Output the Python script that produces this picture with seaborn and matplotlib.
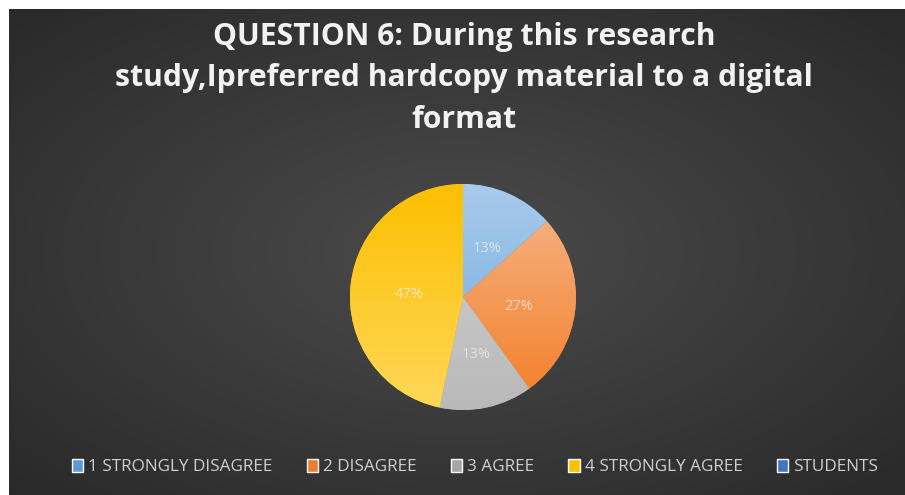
import numpy as np
import matplotlib
matplotlib.use("Agg")
import matplotlib.pyplot as plt
import seaborn as sns
from matplotlib.patches import Rectangle
from matplotlib.colors import LinearSegmentedColormap

sns.set_theme(style="white")
plt.rcParams['font.family'] = ['Open Sans', 'DejaVu Sans']

categories = ["1 STRONGLY DISAGREE", "2 DISAGREE", "3 AGREE", "4 STRONGLY AGREE"]
values = [2, 4, 2, 7]
legend_labels = ["1 STRONGLY DISAGREE", "2 DISAGREE", "3 AGREE", "4 STRONGLY AGREE", "STUDENTS"]
legend_colors = ["#5B9BD5", "#ED7D31", "#A5A5A5", "#FFC000", "#4472C4"]
title = "QUESTION 6: During this research\nstudy,Ipreferred hardcopy material to a digital\nformat"

# gradient endpoints (top colour, bottom colour) per slice
grad_top = ["#a9cbeb", "#f5b88d", "#d2d2d2", "#fcbf00"]
grad_bot = ["#6ba7dc", "#f47d25", "#b9b9b9", "#ffd85a"]

W, H = 905, 495
fig = plt.figure(figsize=(W / 100, H / 100), dpi=100, facecolor="white")

# background panel with radial gradient
bg = fig.add_axes([9 / W, 0, 1 - 9 / W, 1 - 9 / H])
yy, xx = np.mgrid[-1:1:300j, -1:1:500j]
r = np.sqrt((xx * 0.9) ** 2 + (yy * 0.9) ** 2)
bg_cmap = LinearSegmentedColormap.from_list("bg", ["#4b4b4b", "#2a2a2a"])
bg.imshow(r, cmap=bg_cmap, aspect="auto", extent=[0, 1, 0, 1], vmin=0, vmax=1.25)
bg.set_axis_off()

# pie
cx, cy, rad = 463, 297, 113
ax = fig.add_axes([(cx - rad) / W, (H - cy - rad) / H, 2 * rad / W, 2 * rad / H])
wedges, texts = ax.pie(values, colors=legend_colors[:4], startangle=90, counterclock=False,
                       radius=1.0, wedgeprops=dict(linewidth=0))
ax.set_xlim(-1, 1)
ax.set_ylim(-1, 1)
ax.set_aspect("equal")
ax.set_axis_off()

# gradient fill per wedge
for w, ct, cb in zip(wedges, grad_top, grad_bot):
    cmap = LinearSegmentedColormap.from_list("g", [cb, ct])
    grad = np.linspace(0, 1, 256).reshape(-1, 1)
    im = ax.imshow(grad, cmap=cmap, extent=[-1, 1, -1, 1], origin="lower", aspect="auto", zorder=2)
    im.set_clip_path(w)
    w.set_zorder(1)

total = sum(values)
pos = [(487, 248), (519, 307), (476, 355), (409, 295)]
for v, (px, py) in zip(values, pos):
    x = (px - cx) / rad
    y = (cy - py) / rad
    ax.text(x, y, f"{round(100 * v / total)}%", ha="center", va="center", color="#f2f2f2",
            fontsize=10.5, zorder=5, alpha=0.7)

fig.text(464 / W, 1 - 78 / H, title, ha="center", va="center", fontsize=21.7,
         fontweight="bold", color="#f2f2f2", linespacing=1.5)

handles = [Rectangle((0, 0), 1, 1, facecolor=c) for c in legend_colors]
leg = fig.legend(handles, legend_labels, loc="center", bbox_to_anchor=(475 / W, 1 - 467 / H), ncol=5,
                 frameon=False, fontsize=12.3, handlelength=0.65, handleheight=0.85, handletextpad=0.3,
                 columnspacing=2.0, labelcolor="#d0d0d0")

fig.savefig("out.png", dpi=100, facecolor="white")
